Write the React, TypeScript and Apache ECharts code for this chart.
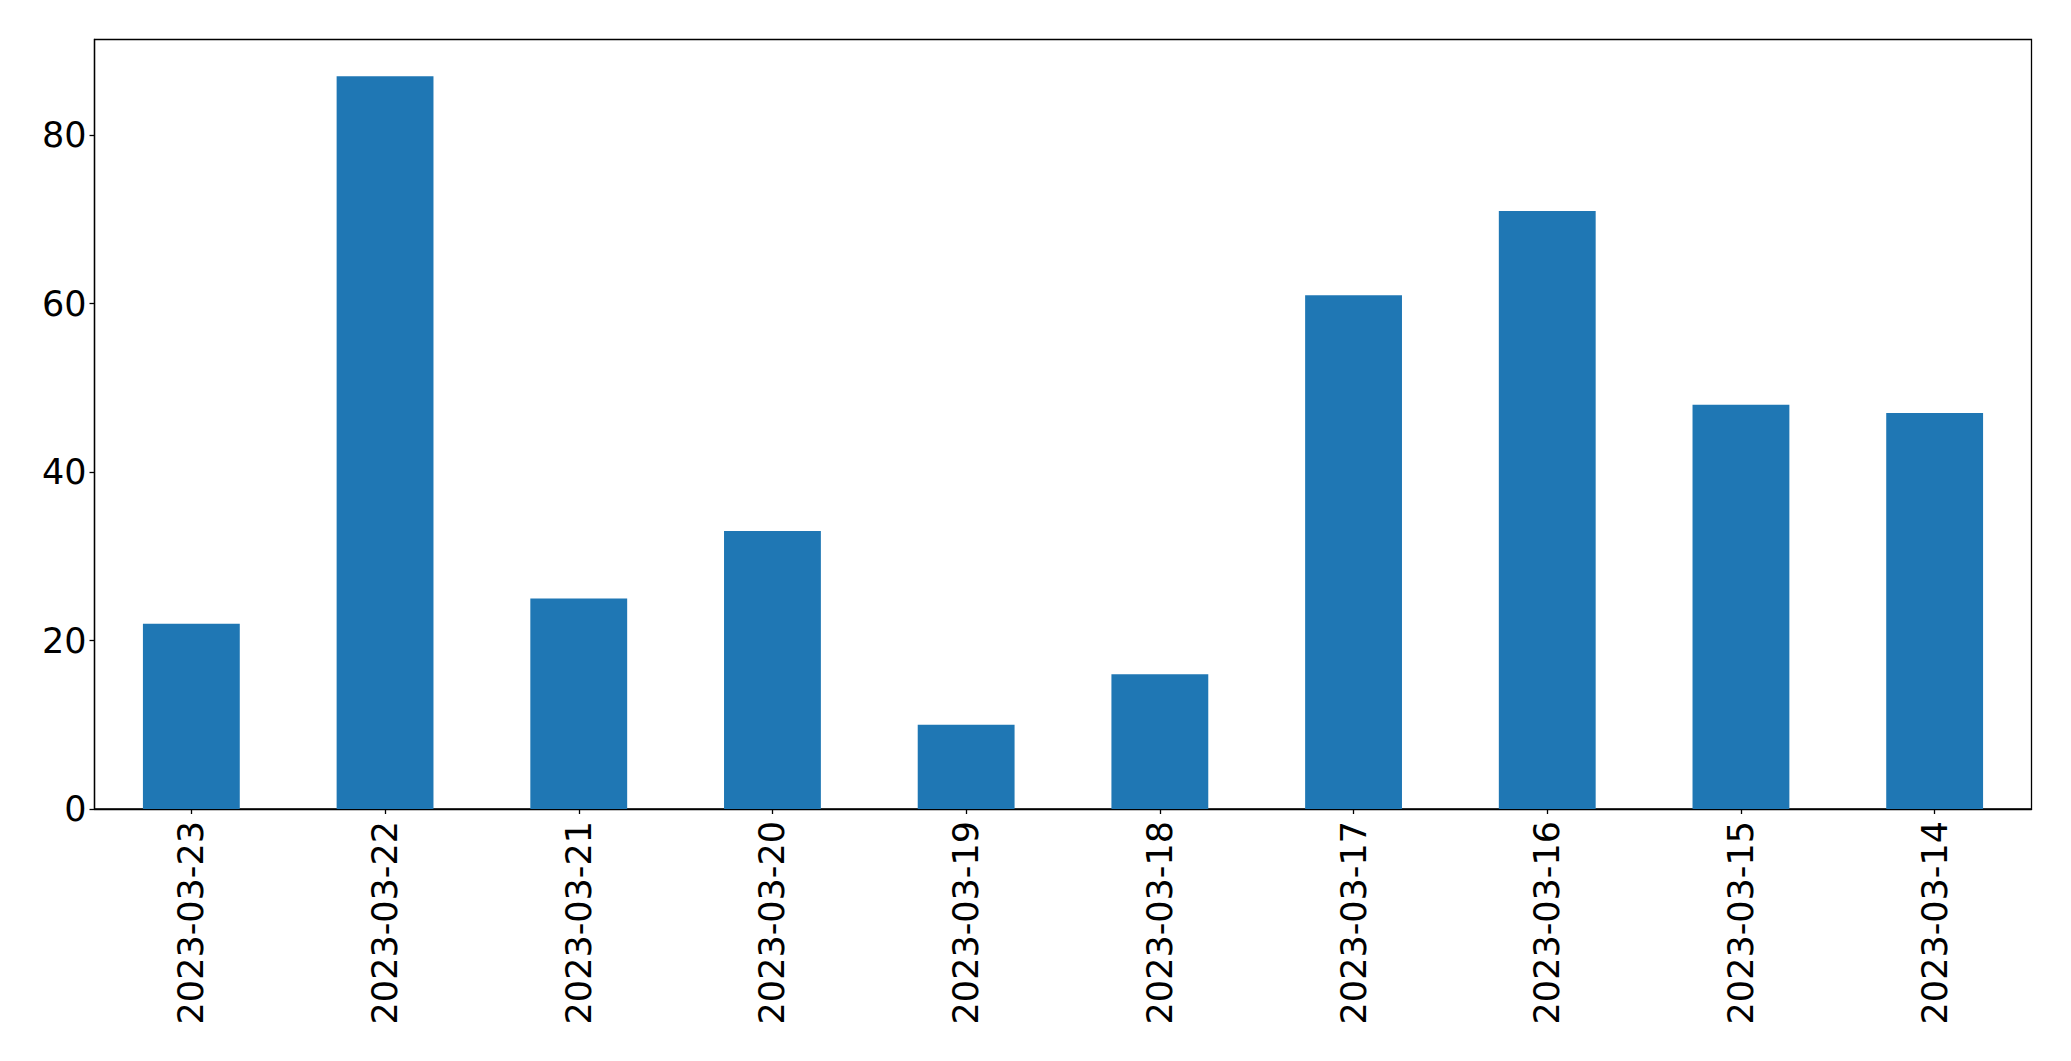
import React, { useEffect, useRef } from "react";
import * as echarts from "echarts";

const categories = [
  "2023-03-23",
  "2023-03-22",
  "2023-03-21",
  "2023-03-20",
  "2023-03-19",
  "2023-03-18",
  "2023-03-17",
  "2023-03-16",
  "2023-03-15",
  "2023-03-14",
];
const values = [22, 87, 25, 33, 10, 16, 61, 71, 48, 47];
const yTicks = [0, 20, 40, 60, 80];

export default function App() {
  const ref = useRef<HTMLDivElement>(null);
  useEffect(() => {
    if (!ref.current) return;
    const chart = echarts.init(ref.current, undefined, { renderer: "svg" });
    const yMax = Math.max(...values) * 1.05;
    chart.setOption({
      animation: false,
      backgroundColor: "#ffffff",
      grid: {
        left: 94.5,
        top: 39.5,
        right: 39.5,
        bottom: 252,
        show: true,
        borderColor: "#000000",
        borderWidth: 1.3,
        backgroundColor: "transparent",
      },
      xAxis: {
        type: "category",
        data: categories,
        boundaryGap: true,
        axisLine: { show: true, lineStyle: { color: "#000000", width: 1.3 } },
        axisTick: { show: true, alignWithLabel: true, length: 5, lineStyle: { color: "#000000", width: 1.3 } },
        axisLabel: {
          rotate: 90,
          margin: 12,
          color: "#000000",
          fontFamily: "DejaVu Sans",
          fontSize: 35,
          interval: 0,
        },
        splitLine: { show: false },
      },
      yAxis: {
        type: "value",
        min: 0,
        max: yMax,
        axisLine: { show: true, lineStyle: { color: "#000000", width: 1.3 } },
        axisTick: { show: true, length: 5, customValues: yTicks, lineStyle: { color: "#000000", width: 1.3 } },
        axisLabel: {
          customValues: yTicks,
          margin: 8,
          color: "#000000",
          fontFamily: "DejaVu Sans",
          fontSize: 35,
        },
        splitLine: { show: false },
      },
      series: [
        {
          type: "bar",
          data: values,
          barWidth: "50%",
          itemStyle: { color: "#1f77b4" },
        },
      ],
    });
    return () => chart.dispose();
  }, []);
  return (
    <div
      ref={ref}
      style={{ position: "absolute", left: 0, top: 0, width: 2071, height: 1061 }}
    />
  );
}
